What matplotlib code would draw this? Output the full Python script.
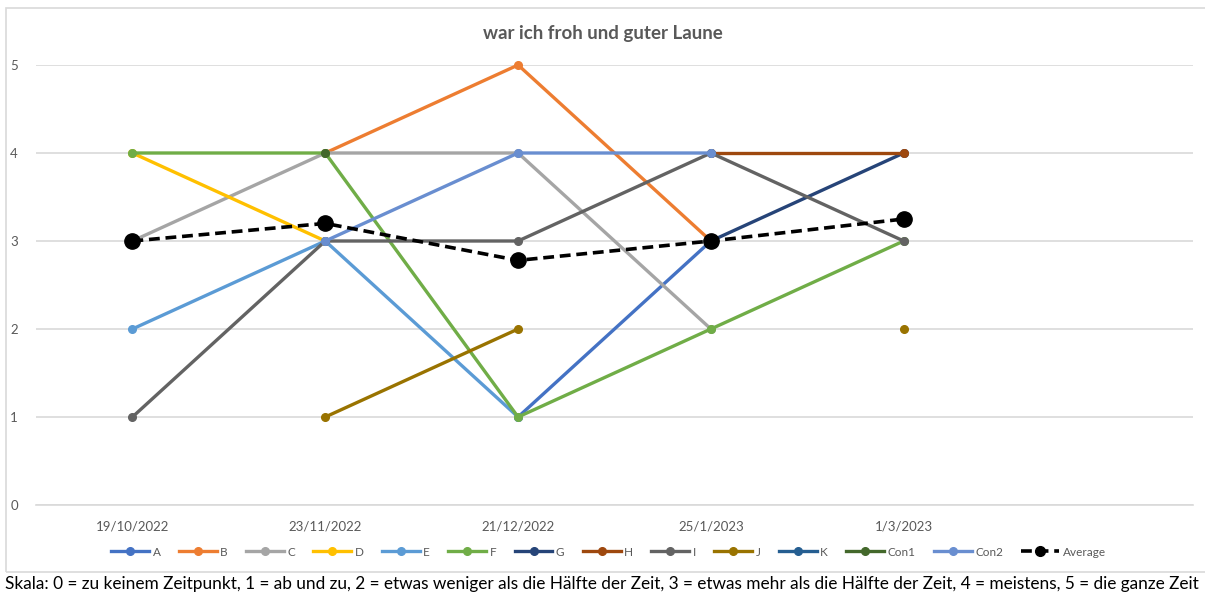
import numpy as np
import matplotlib
matplotlib.use("Agg")
import matplotlib.pyplot as plt
from matplotlib.patches import Rectangle
from matplotlib.lines import Line2D

nan = np.nan

# --- data ---
dates = ["19/10/2022", "23/11/2022", "21/12/2022", "25/1/2023", "1/3/2023", ""]

A = [nan, nan, 1, 3, nan]
B = [nan, 4, 5, 3, nan]
C = [3, 4, 4, 2, nan]
D = [4, 3, nan, nan, nan]
E = [2, 3, 1, nan, nan]
F = [4, 4, 1, 2, 3]
G = [nan, nan, nan, 3, 4]
H = [nan, nan, nan, 4, 4]
I = [1, 3, 3, 4, 3]
J = [nan, 1, 2, nan, 2]
K = [nan, nan, nan, nan, nan]
Con1 = [nan, 4, nan, nan, nan]
Con2 = [nan, 3, 4, 4, nan]
Average = [3, 3.2, 2.78, 3, 3.25]

names = ["A", "B", "C", "D", "E", "F", "G", "H", "I", "J", "K", "Con1", "Con2"]
series = [A, B, C, D, E, F, G, H, I, J, K, Con1, Con2]
colors = ["#4472C4", "#ED7D31", "#A5A5A5", "#FFC000", "#5B9BD5", "#70AD47",
          "#264478", "#9E480E", "#636363", "#997300", "#255E91", "#43682B", "#698ED0"]

plt.rcParams["font.family"] = ["Lato", "DejaVu Sans"]
txt = "#595959"

fig = plt.figure(figsize=(12.05, 5.94), dpi=100)
ax = fig.add_axes([36 / 1205, 1 - 505 / 594, (1193 - 36) / 1205, 440 / 594])

# chart frame
fig.patches.append(Rectangle((6 / 1205, 1 - 572 / 594), 1.0, 564 / 594,
                             transform=fig.transFigure, fill=False,
                             edgecolor="#d9d9d9", linewidth=1.2))

x = np.arange(5)
handles = []
for name, vals, col in zip(names, series, colors):
    ax.plot(x, vals, color=col, lw=2.4, marker="o", ms=5.5,
            solid_capstyle="round", zorder=3, clip_on=False)
    handles.append(Line2D([], [], color=col, lw=2.4, marker="o", ms=5.5, label=name))

ax.plot(x, Average, color="black", lw=2.6, ls=(0, (3, 1.6)), marker="o",
        ms=11, zorder=4, clip_on=False)
handles.append(Line2D([], [], color="black", lw=2.6, ls=(0, (3, 1.6)), marker="o",
                      ms=7, label="Average"))

ax.set_xlim(-0.5, 5.5)
ax.set_ylim(0, 5)
ax.set_yticks(range(6))
ax.set_xticks(range(6))
ax.set_xticklabels(dates)
ax.grid(axis="y", color="#d9d9d9", lw=1.2)
ax.set_axisbelow(True)
for s in ["top", "right", "left"]:
    ax.spines[s].set_visible(False)
ax.spines["bottom"].set_color("#d9d9d9")
ax.spines["bottom"].set_linewidth(1.2)
ax.tick_params(axis="both", length=0, colors=txt, labelsize=9.5)
ax.tick_params(axis="x", pad=11)
ax.tick_params(axis="y", pad=13)

fig.text(0.5, 1 - 34 / 594, "war ich froh und guter Laune", ha="center", va="center",
         fontsize=13.5, fontweight="bold", color=txt)

fig.legend(handles=handles, loc="center", bbox_to_anchor=(0.505, 1 - 552 / 594),
           ncol=14, frameon=False, fontsize=8.5, handlelength=3.2,
           handletextpad=0.3, columnspacing=1.55, labelcolor=txt)

fig.text(5 / 1205, 1 - 584 / 594,
         "Skala: 0 = zu keinem Zeitpunkt, 1 = ab und zu, 2 = etwas weniger als die Hälfte der Zeit, "
         "3 = etwas mehr als die Hälfte der Zeit, 4 = meistens, 5 = die ganze Zeit",
         ha="left", va="center", fontsize=12.4, color="black")

fig.savefig("out.png", dpi=100)
